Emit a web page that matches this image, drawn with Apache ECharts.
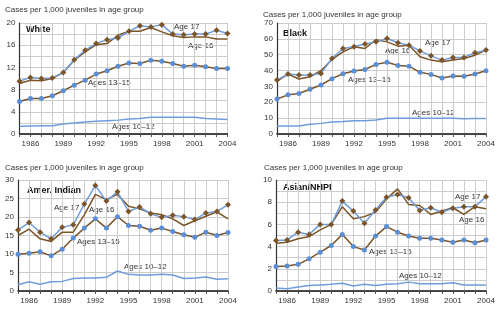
<!DOCTYPE html>
<html>
<head>
<meta charset="utf-8">
<script src="https://cdn.jsdelivr.net/npm/echarts@6/dist/echarts.min.js"></script>
<style>
  html, body { margin: 0; padding: 0; background: #fff; }
  #chart { width: 500px; height: 313px; }
</style>
</head>
<body>
<div id="chart"></div>
<script>
  var years = ['1985','1986','1987','1988','1989','1990','1991','1992','1993','1994',
               '1995','1996','1997','1998','1999','2000','2001','2002','2003','2004'];

  // White
  var white17 = [9.5, 10.2, 10.0, 10.1, 11.1, 13.4, 15.1, 16.3, 17.0, 17.3, 18.5, 19.5, 19.3, 19.7, 18.0, 17.9, 18.0, 18.0, 18.7, 18.1];
  var white16 = [9.1, 9.7, 9.6, 10.0, 11.1, 13.3, 14.8, 16.1, 16.3, 17.8, 18.5, 18.5, 19.2, 18.4, 17.7, 17.4, 17.5, 17.5, 17.1, 17.1];
  var white1315 = [5.85, 6.4, 6.4, 6.9, 7.8, 8.8, 9.7, 10.8, 11.4, 12.2, 12.8, 12.7, 13.3, 13.1, 12.7, 12.2, 12.4, 12.1, 11.8, 11.8];
  var white1012 = [1.4, 1.45, 1.5, 1.5, 1.8, 2.0, 2.15, 2.3, 2.4, 2.5, 2.7, 2.8, 3.0, 3.0, 3.0, 3.0, 3.0, 2.8, 2.7, 2.6];

  // Black
  var black17 = [34.1, 37.8, 37.2, 37.2, 38.2, 47.6, 53.9, 55.0, 56.8, 58.1, 60.2, 57.5, 56.0, 52.4, 49.3, 46.6, 48.3, 48.3, 51.2, 52.9];
  var black16 = [33.4, 37.8, 34.7, 36.1, 39.9, 47.0, 51.8, 55.0, 53.9, 59.5, 58.1, 55.4, 56.0, 48.7, 46.6, 45.5, 46.6, 47.6, 49.7, 52.9];
  var black1315 = [22.1, 24.7, 25.5, 28.2, 30.9, 34.9, 38.0, 39.7, 40.7, 43.9, 45.3, 43.2, 42.8, 38.9, 37.6, 35.3, 36.6, 36.4, 37.8, 39.9];
  var black1012 = [5.0, 5.0, 5.0, 6.1, 6.7, 7.5, 7.9, 8.4, 8.4, 8.8, 10.0, 10.0, 10.0, 10.0, 10.0, 10.0, 10.0, 9.6, 9.8, 9.8];

  // Amer. Indian
  var amer17 = [16.5, 18.5, 15.9, 14.1, 17.2, 17.9, 23.5, 28.5, 24.3, 26.8, 21.5, 22.7, 20.9, 19.9, 20.5, 20.1, 19.3, 21.1, 21.5, 23.3];
  var amer16 = [15.0, 16.7, 14.1, 13.4, 15.9, 15.9, 20.6, 26.1, 24.7, 26.1, 22.9, 22.2, 21.1, 20.6, 19.5, 17.7, 19.0, 20.2, 21.4, 19.5];
  var amer1315 = [9.9, 10.2, 10.6, 9.5, 11.3, 14.3, 17.0, 19.5, 17.0, 20.1, 17.7, 17.5, 16.4, 17.0, 16.1, 15.2, 14.5, 15.9, 15.0, 15.8];
  var amer1012 = [1.7, 2.5, 1.8, 2.5, 2.6, 3.4, 3.5, 3.5, 3.7, 5.4, 4.5, 4.3, 4.3, 4.5, 4.3, 3.4, 3.5, 3.8, 3.2, 3.3];

  // Asian/NHPI
  var asian17 = [4.55, 4.6, 5.3, 5.1, 6.0, 6.0, 8.1, 7.2, 6.1, 7.3, 8.45, 8.7, 8.4, 7.25, 7.5, 7.1, 7.45, 7.6, 7.6, 8.5];
  var asian16 = [4.3, 4.4, 4.7, 4.9, 5.5, 6.0, 7.6, 6.5, 6.7, 7.1, 8.3, 9.2, 7.8, 7.7, 6.9, 7.2, 7.5, 6.9, 7.6, 7.4];
  var asian1315 = [2.2, 2.25, 2.4, 2.9, 3.5, 4.1, 5.1, 4.0, 3.7, 4.95, 5.8, 5.3, 4.95, 4.75, 4.75, 4.6, 4.4, 4.6, 4.35, 4.6];
  var asian1012 = [0.27, 0.2, 0.35, 0.5, 0.55, 0.6, 0.7, 0.45, 0.6, 0.5, 0.6, 0.65, 0.8, 0.65, 0.65, 0.65, 0.75, 0.55, 0.55, 0.55];

  var BLUE = '#6f9ddc';
  var BROWN = '#7b5427';
  var FONT = '"Liberation Sans", Arial, sans-serif';

  var panels = [
    { name: 'White', max: 20, step: 4, minor: 2, s: [white17, white16, white1315, white1012] },
    { name: 'Black', max: 70, step: 10, minor: 0, s: [black17, black16, black1315, black1012] },
    { name: 'Amer. Indian', max: 30, step: 5, minor: 0, s: [amer17, amer16, amer1315, amer1012] },
    { name: 'Asian/NHPI', max: 10, step: 2, minor: 2, s: [asian17, asian16, asian1315, asian1012] }
  ];

  var grids = [
    { left: 19.5, top: 23, width: 208, height: 111 },
    { left: 277, top: 23, width: 209, height: 111 },
    { left: 18, top: 180, width: 210, height: 111 },
    { left: 276, top: 180, width: 210, height: 111 }
  ];

  var xAxes = [], yAxes = [], series = [];
  panels.forEach(function (p, i) {
    xAxes.push({
      gridIndex: i, type: 'category', data: years, boundaryGap: false,
      axisLine: { lineStyle: { color: '#111', width: 1.5 } },
      axisTick: { show: true, interval: 0, length: 3, lineStyle: { color: '#555' } },
      axisLabel: {
        interval: function (idx) { return (idx - 1) % 3 === 0; },
        fontSize: 8, color: '#333', fontFamily: FONT, margin: 6
      },
      splitLine: { show: true, interval: 0, lineStyle: { color: '#cccccc', width: 1 } }
    });
    yAxes.push({
      gridIndex: i, type: 'value', min: 0, max: p.max, interval: p.step,
      axisLine: { show: true, lineStyle: { color: '#333', width: 1.2 } },
      axisTick: { show: false },
      axisLabel: { fontSize: 8, color: '#333', fontFamily: FONT, margin: 4 },
      splitLine: { show: true, lineStyle: { color: '#cccccc', width: 1 } },
      minorTick: { show: false, splitNumber: p.minor || 5 },
      minorSplitLine: { show: p.minor > 0, lineStyle: { color: '#cccccc', width: 1 } }
    });
    series.push({
      type: 'line', xAxisIndex: i, yAxisIndex: i, data: p.s[3],
      showSymbol: false, symbol: 'none',
      lineStyle: { color: BLUE, width: 1.5 }
    });
    series.push({
      type: 'line', xAxisIndex: i, yAxisIndex: i, data: p.s[1],
      symbol: 'none',
      lineStyle: { color: BROWN, width: 1.5 }
    });
    series.push({
      type: 'line', xAxisIndex: i, yAxisIndex: i, data: p.s[2],
      symbol: 'circle', symbolSize: 5,
      itemStyle: { color: '#5a8fd6' },
      lineStyle: { color: BROWN, width: 1.5 }
    });
    series.push({
      type: 'line', xAxisIndex: i, yAxisIndex: i, data: p.s[0],
      symbol: 'diamond', symbolSize: 6,
      itemStyle: { color: BROWN },
      lineStyle: { color: BLUE, width: 1.5 }
    });
  });

  function txt(x, y, s, bold) {
    return {
      type: 'text', left: x, top: y - 4, silent: true,
      style: {
        text: s, fill: bold ? '#111' : '#333',
        font: (bold ? 'bold 9px ' : '8px ') + FONT
      }
    };
  }

  var labels = [
    txt(5, 10, 'Cases per 1,000 juveniles in age group'),
    txt(26, 29, 'White', true),
    txt(174, 27, 'Age 17'), txt(188, 46, 'Age 16'),
    txt(88, 83, 'Ages 13–15'), txt(112, 127, 'Ages 10–12'),

    txt(263, 15, 'Cases per 1,000 juveniles in age group'),
    txt(283, 33, 'Black', true),
    txt(425, 43, 'Age 17'), txt(385, 51, 'Age 16'),
    txt(348, 80, 'Ages 13–15'), txt(412, 113, 'Ages 10–12'),

    txt(5, 168, 'Cases per 1,000 juveniles in age group'),
    txt(27, 190, 'Amer. Indian', true),
    txt(54, 208, 'Age 17'), txt(89, 210, 'Age 16'),
    txt(77, 242, 'Ages 13–15'), txt(124, 267, 'Ages 10–12'),

    txt(264, 168, 'Cases per 1,000 juveniles in age group'),
    txt(283, 187, 'Asian/NHPI', true),
    txt(455, 197, 'Age 17'), txt(459, 220, 'Age 16'),
    txt(369, 252, 'Ages 13–15'), txt(399, 276, 'Ages 10–12')
  ];

  var myChart = echarts.init(document.getElementById('chart'));
  myChart.setOption({
    animation: false,
    backgroundColor: '#fff',
    grid: grids,
    xAxis: xAxes,
    yAxis: yAxes,
    series: series,
    graphic: labels
  });
</script>
</body>
</html>
